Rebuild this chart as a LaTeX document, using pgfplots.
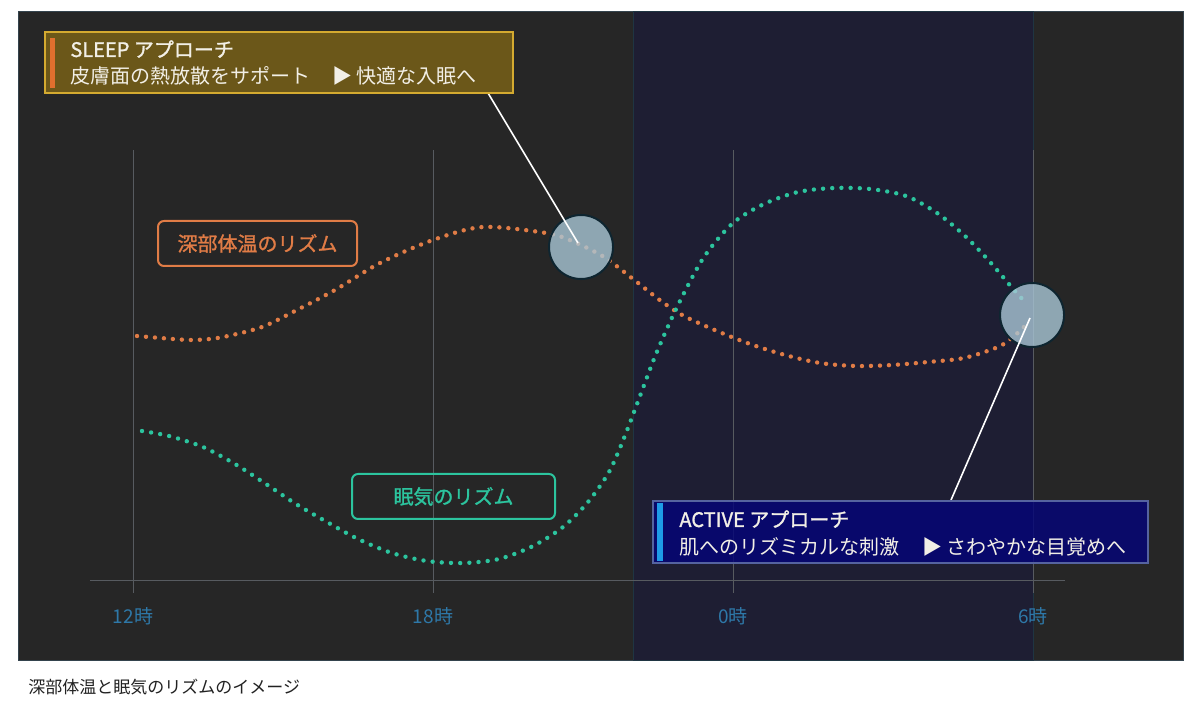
\documentclass[border=0pt]{standalone}
\usepackage{fontspec}
\setmainfont{Noto Sans CJK JP}
\newfontfamily\medfont{Noto Sans CJK JP}[FakeBold=1.3]
\usepackage{pgfplots}
\pgfplotsset{compat=1.18}

\definecolor{panelC}{HTML}{262626}
\definecolor{panelEdge}{HTML}{34434D}
\definecolor{shadeC}{HTML}{1E1E33}
\definecolor{shadeEdge}{HTML}{1F3542}
\definecolor{gridC}{HTML}{575B60}
\definecolor{tickC}{HTML}{2E78A8}
\definecolor{orangeC}{HTML}{E07C46}
\definecolor{greenC}{HTML}{2CC49E}
\definecolor{circC}{HTML}{A9C6D6}
\definecolor{circEdge}{HTML}{0E2530}
\definecolor{sleepFill}{HTML}{6B5719}
\definecolor{sleepEdge}{HTML}{D4AA30}
\definecolor{accentO}{HTML}{E06F2E}
\definecolor{activeFill}{HTML}{040478}
\definecolor{activeEdge}{HTML}{5563A0}
\definecolor{accentB}{HTML}{1E9BE8}
\definecolor{boxText}{HTML}{F2EFE6}
\definecolor{capC}{HTML}{222222}

\begin{document}
\begin{tikzpicture}
% background, in pixels of the 1198x708 picture
\begin{scope}[x=0.5bp, y=-0.5bp, shift={(0bp,354bp)}]
  \fill[white] (0,0) rectangle (1198,708);
  \draw[fill=panelC, draw=panelEdge, line width=0.5bp] (18,12) rectangle (1183,660);
\end{scope}

\begin{axis}[at={(0,0)}, anchor=south west, scale only axis,
    width=599bp, height=354bp,
    xmin=-2.66, xmax=21.3, ymin=-128, ymax=580,
    axis lines=none, clip=false]
  % night band 22h - 6h
  \draw[fill=shadeC, draw=shadeEdge, line width=0.5bp] (axis cs:10,-80) rectangle (axis cs:18,568);
  % grid
  \draw[gridC, line width=0.5bp] (axis cs:0,-13) -- (axis cs:0,430);
  \draw[gridC, line width=0.5bp] (axis cs:6,-13) -- (axis cs:6,430);
  \draw[gridC, line width=0.5bp] (axis cs:12,-13) -- (axis cs:12,430);
  \draw[gridC, line width=0.5bp] (axis cs:18,-13) -- (axis cs:18,430);
  \draw[gridC, line width=0.5bp] (axis cs:-0.86,0) -- (axis cs:18.64,0);

  % core body temperature
  \addplot[orangeC, line width=2.2bp, line cap=round, dash pattern=on 0bp off 4.5bp, smooth] coordinates {
    (0.08,244) (0.8,241) (1.18,240) (1.54,241) (1.9,244) (2.58,253)
    (3.24,269) (4.04,290) (4.94,317) (6.0,340) (7.0,353) (8.26,347)
    (8.78,339) (9.42,323) (10.0,301) (10.56,279) (11.02,264) (11.68,249)
    (12.34,236) (13.04,225) (13.74,217) (14.46,214) (15.18,215) (15.9,218)
    (16.62,222) (17.3,233) (17.6,243) (17.88,256)
  };
  % sleepiness
  \addplot[greenC, line width=2.2bp, line cap=round, dash pattern=on 0bp off 4.6bp, smooth] coordinates {
    (0.18,149) (0.72,144) (1.4,133) (2.04,116) (2.66,96) (3.26,76)
    (3.88,58) (4.5,41) (5.18,27) (5.88,19) (6.6,17) (7.32,21)
    (8.0,34) (8.6,53) (9.1,78) (9.52,108) (9.82,142) (10.08,176)
    (10.46,226) (10.9,275) (11.42,323) (12.0,357) (12.62,376) (13.3,388)
    (14.02,392) (14.74,391) (15.46,384) (16.08,367) (16.64,344) (17.14,318)
    (17.62,290) (17.86,277)
  };
  % highlight circles
  \addplot[only marks, mark=*, mark size=16bp,
    mark options={fill=circC, fill opacity=0.8, draw=circEdge, line width=1bp}]
    coordinates {(8.96,333) (17.98,265)};

  % hour labels
  \node[tickC, anchor=base, font=\fontsize{9.5bp}{11bp}\selectfont] at (axis cs:0,-43) {12時};
  \node[tickC, anchor=base, font=\fontsize{9.5bp}{11bp}\selectfont] at (axis cs:6,-43) {18時};
  \node[tickC, anchor=base, font=\fontsize{9.5bp}{11bp}\selectfont] at (axis cs:12,-43) {0時};
  \node[tickC, anchor=base, font=\fontsize{9.5bp}{11bp}\selectfont] at (axis cs:18,-43) {6時};
\end{axis}

% annotations, in pixels
\begin{scope}[x=0.5bp, y=-0.5bp, shift={(0bp,354bp)}]
  \draw[white, line width=0.8bp] (488,93) -- (578,243);
  \draw[white, line width=0.8bp] (951,500) -- (1030,318);

  % curve labels
  \draw[orangeC, line width=1bp, rounded corners=3bp] (158,221) rectangle (357,266);
  \node[orangeC, font=\fontsize{10bp}{12bp}\medfont] at (257.5,243.5) {深部体温のリズム};
  \draw[greenC, line width=1bp, rounded corners=3bp] (352,474) rectangle (555,519);
  \node[greenC, font=\fontsize{10bp}{12bp}\medfont] at (453.5,496.5) {眠気のリズム};

  % SLEEP box
  \draw[fill=sleepFill, draw=sleepEdge, line width=0.8bp] (45,32) rectangle (513,93);
  \fill[accentO] (50,38) rectangle (55,88);
  \node[boxText, anchor=base west, inner sep=0pt, font=\fontsize{10bp}{12bp}\medfont] at (70,57) {SLEEP アプローチ};
  \node[boxText, anchor=base west, inner sep=0pt, font=\fontsize{10bp}{12bp}\selectfont] at (70,84) {皮膚面の熱放散をサポート};
  \node[boxText, anchor=base west, inner sep=0pt, font=\fontsize{10bp}{12bp}\selectfont] at (332,84) {▶ 快適な入眠へ};

  % ACTIVE box
  \draw[fill=activeFill, fill opacity=0.82, draw=activeEdge, line width=0.6bp] (653,501) rectangle (1148,563);
  \fill[accentB] (657,503) rectangle (663,561);
  \node[boxText, anchor=base west, inner sep=0pt, font=\fontsize{10bp}{12bp}\medfont] at (679,527) {ACTIVE アプローチ};
  \node[boxText, anchor=base west, inner sep=0pt, font=\fontsize{10bp}{12bp}\selectfont] at (679,554) {肌へのリズミカルな刺激};
  \node[boxText, anchor=base west, inner sep=0pt, font=\fontsize{10bp}{12bp}\selectfont] at (922,554) {▶ さわやかな目覚めへ};

  % caption
  \node[capC, anchor=base west, inner sep=0pt, font=\fontsize{8.5bp}{10bp}\selectfont] at (28,693) {深部体温と眠気のリズムのイメージ};
\end{scope}
\end{tikzpicture}
\end{document}
